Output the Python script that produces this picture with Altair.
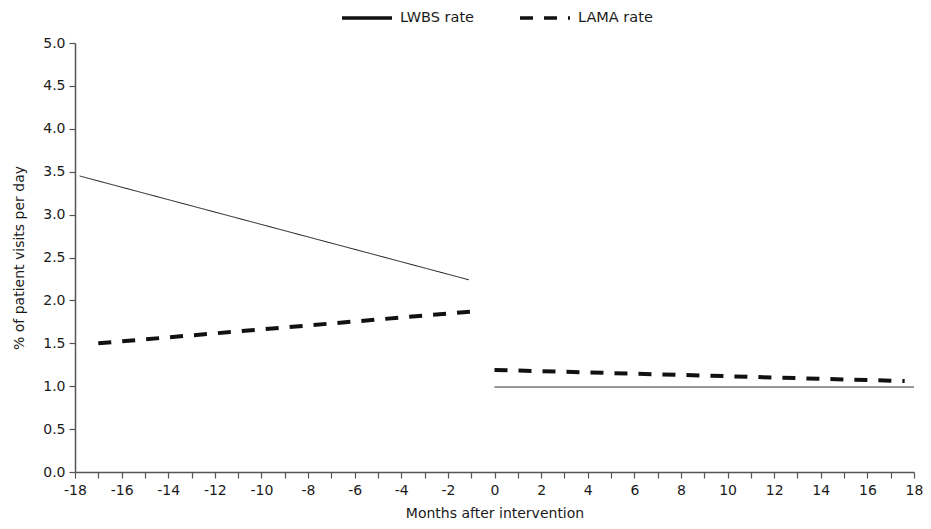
import altair as alt
import pandas as pd

series_names = ["LWBS rate", "LAMA rate"]

lwbs_pre_x = [-17.8, -1.1]
lwbs_pre_y = [3.45, 2.24]
lwbs_post_x = [0, 18]
lwbs_post_y = [0.99, 0.99]

lama_pre_x = [-17, -1]
lama_pre_y = [1.50, 1.87]
lama_post_x = [0, 17.6]
lama_post_y = [1.19, 1.06]

x_ticks = list(range(-18, 19))
y_ticks = [0, 0.5, 1, 1.5, 2, 2.5, 3, 3.5, 4, 4.5, 5]

rows = []
for s, seg, xs, ys in [
    ("LWBS rate", "pre", lwbs_pre_x, lwbs_pre_y),
    ("LWBS rate", "post", lwbs_post_x, lwbs_post_y),
    ("LAMA rate", "pre", lama_pre_x, lama_pre_y),
    ("LAMA rate", "post", lama_post_x, lama_post_y),
]:
    for x, y in zip(xs, ys):
        rows.append({"series": s, "segment": seg, "month": x, "rate": y})
df = pd.DataFrame(rows)

axis_color = "#555555"
text_color = "#1a1a1a"
font = "DejaVu Sans"

x_enc = alt.X(
    "month:Q",
    scale=alt.Scale(domain=[-18, 18], nice=False, zero=False),
    axis=alt.Axis(
        title="Months after intervention",
        values=x_ticks,
        labelExpr="datum.value % 2 == 0 ? '' + datum.value : ''",
        labelOverlap=False,
        labelFlush=False,
        grid=False,
        domainColor=axis_color,
        domainWidth=1.5,
        tickColor=axis_color,
        tickWidth=1.2,
        tickSize=6,
        labelFont=font,
        labelFontSize=14,
        labelColor=text_color,
        labelPadding=5,
        titleFont=font,
        titleFontSize=14,
        titleFontWeight="normal",
        titleColor=text_color,
        titlePadding=9,
    ),
)
y_enc = alt.Y(
    "rate:Q",
    scale=alt.Scale(domain=[0, 5], nice=False),
    axis=alt.Axis(
        title="% of patient visits per day",
        values=y_ticks,
        format=".1f",
        labelFlush=False,
        grid=False,
        domainColor=axis_color,
        domainWidth=1.5,
        tickColor=axis_color,
        tickWidth=1.2,
        tickSize=6,
        labelFont=font,
        labelFontSize=14,
        labelColor=text_color,
        labelPadding=4,
        titleFont=font,
        titleFontSize=14,
        titleFontWeight="normal",
        titleColor=text_color,
        titlePadding=16,
    ),
)
dash_enc = alt.StrokeDash(
    "series:N",
    scale=alt.Scale(domain=series_names, range=[[1, 0], [13, 11]]),
    legend=alt.Legend(
        title=None,
        orient="none",
        direction="horizontal",
        legendX=265,
        legendY=-52,
        symbolType="stroke",
        symbolSize=2500,
        symbolStrokeWidth=3.5,
        symbolStrokeColor="#111111",
        labelFont=font,
        labelFontSize=14.5,
        labelColor=text_color,
        labelOffset=6,
        columnPadding=38,
    ),
)

lwbs = (
    alt.Chart(df[df.series == "LWBS rate"])
    .mark_line(color="#111111", strokeWidth=1)
    .encode(x=x_enc, y=y_enc, strokeDash=dash_enc, detail="segment:N")
)
lama = (
    alt.Chart(df[df.series == "LAMA rate"])
    .mark_line(color="#111111", strokeWidth=4)
    .encode(x=x_enc, y=y_enc, strokeDash=dash_enc, detail="segment:N")
)

chart = (
    alt.layer(lwbs, lama)
    .properties(
        width=839,
        height=429,
        autosize=alt.AutoSizeParams(type="none"),
        padding={"left": 67, "top": 35, "right": 9, "bottom": 49},
    )
    .configure_view(stroke=None)
)

chart.save("out.html", embed_options={"renderer": "svg", "actions": False})
